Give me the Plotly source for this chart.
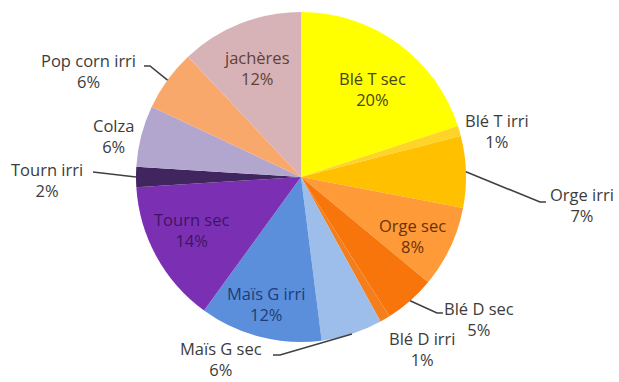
import numpy as np
import plotly.graph_objects as go

# Crop areas (share of total surface), clockwise from 12 o'clock
labels = ["Blé T sec", "Blé T irri", "Orge irri", "Orge sec", "Blé D sec", "Blé D irri",
          "Maïs G sec", "Maïs G irri", "Tourn sec", "Tourn irri", "Colza",
          "Pop corn irri", "jachères"]
shares = [20, 1, 7, 8, 5, 1, 6, 12, 14, 2, 6, 6, 12]

colors = ["#FFFF00", "#FFD428", "#FFC000", "#FF9A38", "#F7750A", "#F57E1C",
          "#9DBEEA", "#5B8FDB", "#7B30B3", "#40255E", "#B3A6CE",
          "#F8A86A", "#D7B2B6"]

W, H = 619, 382
CX, CY, R = 301, 177, 165  # pie centre and radius, in pixels


def px(x, y):
    return x / W, 1 - y / H


# label placement: text centre (px), text colour, leader-line path from the rim
label_layout = {
    "Blé T sec":     dict(pos=(372, 89),  color="#4A4614"),
    "Blé T irri":    dict(pos=(497, 131), color="#3C3C3C"),
    "Orge irri":     dict(pos=(582, 205), color="#3C3C3C", lead=[(540, 202), (546, 202)]),
    "Orge sec":      dict(pos=(412, 236), color="#6A3208"),
    "Blé D sec":     dict(pos=(479, 319), color="#3C3C3C", lead=[(437, 313), (443, 313)]),
    "Blé D irri":    dict(pos=(422, 349), color="#3C3C3C"),
    "Maïs G sec":    dict(pos=(221, 359), color="#3C3C3C", lead=[(280, 355), (273, 355)]),
    "Maïs G irri":   dict(pos=(266, 304), color="#1E3C78"),
    "Tourn sec":     dict(pos=(191, 230), color="#3E1466"),
    "Tourn irri":    dict(pos=(47, 180),  color="#3C3C3C", lead=[(93, 172)]),
    "Colza":         dict(pos=(113, 136), color="#3C3C3C"),
    "Pop corn irri": dict(pos=(88, 71),   color="#3C3C3C", lead=[(150, 66), (144, 66)]),
    "jachères":      dict(pos=(257, 68),  color="#5E4238"),
}

total = sum(shares)
ends = np.cumsum(shares)
mids = (ends - np.array(shares) / 2) / total * 2 * np.pi

fig = go.Figure(go.Pie(
    labels=labels,
    values=shares,
    sort=False,
    direction="clockwise",
    rotation=0,
    marker=dict(colors=colors, line=dict(width=0)),
    textinfo="none",
    hoverinfo="label+percent",
    showlegend=False,
    domain=dict(x=[(CX - R) / W, (CX + R) / W], y=[1 - (CY + R) / H, 1 - (CY - R) / H]),
))

annotations = []
shapes = []
for name, val, ang in zip(labels, shares, mids):
    lay = label_layout[name]
    pct = round(val / total * 100)
    tx, ty = px(*lay["pos"])
    annotations.append(dict(
        x=tx, y=ty, xref="paper", yref="paper", showarrow=False,
        text=f"{name}<br>{pct}%",
        font=dict(family="Open Sans", size=16.5, color=lay["color"]),
        xanchor="center", yanchor="middle",
    ))
    if "lead" in lay:
        rx = CX + R * np.sin(ang)
        ry = CY - R * np.cos(ang)
        pts = [(rx, ry)] + lay["lead"]
        path = "M " + " L ".join(f"{px(x, y)[0]:.5f},{px(x, y)[1]:.5f}" for x, y in pts)
        shapes.append(dict(type="path", xref="paper", yref="paper", path=path,
                           line=dict(color="#404040", width=1.6)))

fig.update_layout(
    width=W, height=H,
    margin=dict(l=0, r=0, t=0, b=0),
    paper_bgcolor="white",
    plot_bgcolor="white",
    annotations=annotations,
    shapes=shapes,
)

fig.write_html("out.html")
